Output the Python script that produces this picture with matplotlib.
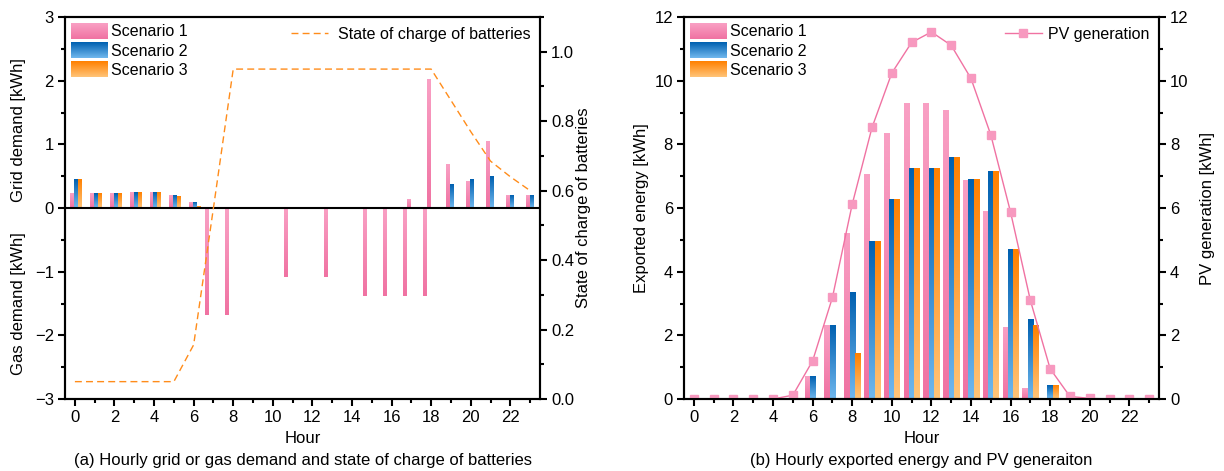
import numpy as np
import matplotlib
matplotlib.use("Agg")
import matplotlib.pyplot as plt
from matplotlib.colors import LinearSegmentedColormap
from matplotlib.legend_handler import HandlerBase
from matplotlib.image import BboxImage
from matplotlib.transforms import Bbox, TransformedBbox
from matplotlib.patches import Patch
from matplotlib.lines import Line2D
from matplotlib.ticker import MultipleLocator

plt.rcParams['font.family'] = ['Liberation Sans', 'DejaVu Sans']
plt.rcParams['font.size'] = 12

hours = np.arange(24)
xticks = list(range(0, 24, 2))

# (a) grid demand (positive) and gas demand (negative), kWh
grid_s1 = [0.22, 0.23, 0.23, 0.25, 0.25, 0.20, 0.08, 0, 0, 0, 0, 0, 0, 0, 0, 0, 0, 0.14, 2.02, 0.68, 0.42, 1.05, 0.19, 0.19]
grid_s2 = [0.45, 0.23, 0.23, 0.25, 0.25, 0.20, 0.08, 0, 0, 0, 0, 0, 0, 0, 0, 0, 0, 0, 0, 0.37, 0.44, 0.49, 0.19, 0.19]
grid_s3 = [0.45, 0.23, 0.23, 0.25, 0.25, 0.18, 0.02, 0, 0, 0, 0, 0, 0, 0, 0, 0, 0, 0, 0, 0, 0, 0, 0, 0]
gas_s1 = [0, 0, 0, 0, 0, 0, 0, -1.68, -1.68, 0, 0, -1.09, 0, -1.09, 0, -1.38, -1.38, -1.38, -1.38, 0, 0, 0, 0, 0]
soc = [0.05, 0.05, 0.05, 0.05, 0.05, 0.05, 0.156, 0.55, 0.95, 0.95, 0.95, 0.95, 0.95, 0.95, 0.95, 0.95,
       0.95, 0.95, 0.95, 0.86, 0.77, 0.685, 0.64, 0.60]

# (b) exported energy and PV generation, kWh
exp_s1 = [0, 0, 0, 0, 0, 0, 0.71, 2.31, 5.21, 7.04, 8.33, 9.28, 9.28, 9.06, 6.86, 5.89, 2.25, 0.32, 0, 0, 0, 0, 0, 0]
exp_s2 = [0, 0, 0, 0, 0, 0, 0.71, 2.31, 3.34, 4.95, 6.26, 7.23, 7.23, 7.58, 6.89, 7.15, 4.69, 2.49, 0.42, 0, 0, 0, 0, 0]
exp_s3 = [0, 0, 0, 0, 0, 0, 0, 0, 1.43, 4.95, 6.26, 7.23, 7.23, 7.58, 6.89, 7.15, 4.69, 2.31, 0.42, 0, 0, 0, 0, 0]
pv_gen = [0, 0, 0, 0, 0, 0.12, 1.2, 3.19, 6.12, 8.53, 10.24, 11.2, 11.53, 11.11, 10.07, 8.3, 5.87, 3.1, 0.95,
          0.08, 0.02, 0, 0, 0]

labels = ['Scenario 1', 'Scenario 2', 'Scenario 3']
# (top colour, bottom colour)
pink = ('#f9a0c4', '#f072a2')
blue = ('#0060b0', '#70b8ee')
orange = ('#ff8000', '#ffc478')
soc_color = '#ff8c1a'
pv_line = '#f072a2'
pv_marker = '#f799bf'


def grad_bars(ax, x, heights, width, colors, zorder=2):
    bars = ax.bar(x, heights, width, color='none', edgecolor='none', zorder=zorder)
    cmap = LinearSegmentedColormap.from_list('g', [colors[1], colors[0]])
    grad = np.linspace(0, 1, 128).reshape(-1, 1)
    for b in bars:
        h = b.get_height()
        if h == 0:
            continue
        x0, y0, w = b.get_x(), b.get_y(), b.get_width()
        lo, hi = min(y0, y0 + h), max(y0, y0 + h)
        ax.imshow(grad, extent=[x0, x0 + w, lo, hi], origin='lower', cmap=cmap,
                  aspect='auto', interpolation='bilinear', zorder=zorder)
    return bars


class GradHandler(HandlerBase):
    def __init__(self, colors):
        super().__init__()
        self.colors = colors

    def create_artists(self, legend, orig_handle, xdescent, ydescent, width, height, fontsize, trans):
        bb = Bbox.from_bounds(-xdescent, -ydescent, width, height)
        tbb = TransformedBbox(bb, trans)
        cmap = LinearSegmentedColormap.from_list('g', [self.colors[1], self.colors[0]])
        img = BboxImage(tbb, cmap=cmap, interpolation='bilinear', origin='lower')
        img.set_data(np.linspace(0, 1, 64).reshape(-1, 1))
        return [img]


def style_axes(ax):
    for s in ax.spines.values():
        s.set_linewidth(1.5)
    ax.tick_params(which='major', direction='out', length=5, width=1.5, labelsize=12, pad=3)
    ax.tick_params(which='minor', direction='out', length=3, width=1.5)


fig = plt.figure(figsize=(12.24, 4.71), dpi=100)
axL = fig.add_axes([65 / 1224, 1 - 399 / 471, 475 / 1224, 382 / 471])
axR = fig.add_axes([684 / 1224, 1 - 399 / 471, 475 / 1224, 382 / 471])

# ---------- (a) ----------
w = 0.2
grad_bars(axL, hours - 0.33, gas_s1, w, pink)
grad_bars(axL, hours - 0.13, grid_s1, w, pink)
grad_bars(axL, hours + 0.07, grid_s2, w, blue)
grad_bars(axL, hours + 0.27, grid_s3, w, orange)
axL.axhline(0, color='black', lw=1.5, zorder=5)
axL.set_xlim(-0.5, 23.5)
axL.set_ylim(-3, 3)
axL.set_xticks(xticks)
axL.xaxis.set_minor_locator(MultipleLocator(1))
axL.yaxis.set_major_locator(MultipleLocator(1))
axL.yaxis.set_minor_locator(MultipleLocator(0.5))
axL.set_xlabel('Hour', labelpad=4)
style_axes(axL)
axL.text(-0.097, 0.705, 'Grid demand [kWh]', transform=axL.transAxes, rotation=90, ha='center', va='center')
axL.text(-0.097, 0.25, 'Gas demand [kWh]', transform=axL.transAxes, rotation=90, ha='center', va='center')

axL2 = axL.twinx()
axL2.plot(hours, soc, color=soc_color, lw=1.0, linestyle=(0, (5, 3)))
axL2.set_ylim(0, 1.1)
axL2.yaxis.set_major_locator(MultipleLocator(0.2))
axL2.yaxis.set_minor_locator(MultipleLocator(0.1))
axL2.yaxis.set_major_formatter(matplotlib.ticker.FormatStrFormatter('%.1f'))
style_axes(axL2)
axL2.set_ylabel('State of charge of batteries', labelpad=1)

handles = [Patch(label=l) for l in labels]
axL.legend(handles, labels, handler_map={handles[0]: GradHandler(pink), handles[1]: GradHandler(blue),
                                         handles[2]: GradHandler(orange)},
           loc='upper left', bbox_to_anchor=(0, 1), frameon=False, handlelength=2.3, handleheight=1.1,
           handletextpad=0.2, labelspacing=0.2, borderaxespad=0.2, borderpad=0.2, fontsize=11.5)
axL2.legend([Line2D([], [], color=soc_color, lw=1.0, linestyle=(0, (5, 3)))], ['State of charge of batteries'],
            loc='upper right', frameon=False, handlelength=2.3, handletextpad=0.6, borderaxespad=0.2, fontsize=11.5)
axL.text(0.5, -0.16, '(a) Hourly grid or gas demand and state of charge of batteries', transform=axL.transAxes,
         ha='center', va='center')

# ---------- (b) ----------
w2 = 0.27
grad_bars(axR, hours - w2, exp_s1, w2, pink)
grad_bars(axR, hours, exp_s2, w2, blue)
grad_bars(axR, hours + w2, exp_s3, w2, orange)
axR.set_xlim(-0.5, 23.5)
axR.set_ylim(0, 12)
axR.set_xticks(xticks)
axR.xaxis.set_minor_locator(MultipleLocator(1))
axR.yaxis.set_major_locator(MultipleLocator(2))
axR.yaxis.set_minor_locator(MultipleLocator(1))
axR.set_xlabel('Hour', labelpad=4)
axR.set_ylabel('Exported energy [kWh]', labelpad=4)
style_axes(axR)

axR2 = axR.twinx()
axR2.plot(hours, pv_gen, color=pv_line, lw=1.0, marker='s', markersize=5.5, markerfacecolor=pv_marker,
          markeredgecolor=pv_marker)
axR2.set_ylim(0, 12)
axR2.yaxis.set_major_locator(MultipleLocator(2))
axR2.yaxis.set_minor_locator(MultipleLocator(1))
axR2.set_ylabel('PV generation [kWh]', labelpad=8)
style_axes(axR2)

handles2 = [Patch(label=l) for l in labels]
axR.legend(handles2, labels, handler_map={handles2[0]: GradHandler(pink), handles2[1]: GradHandler(blue),
                                          handles2[2]: GradHandler(orange)},
           loc='upper left', bbox_to_anchor=(0, 1), frameon=False, handlelength=2.3, handleheight=1.1,
           handletextpad=0.2, labelspacing=0.2, borderaxespad=0.2, borderpad=0.2, fontsize=11.5)
axR2.legend([Line2D([], [], color=pv_line, lw=1.0, marker='s', markersize=5.5, markerfacecolor=pv_marker,
                    markeredgecolor=pv_marker)], ['PV generation'],
            loc='upper right', frameon=False, handlelength=2.3, handletextpad=0.4, borderaxespad=0.2, fontsize=11.5)
axR.text(0.5, -0.16, '(b) Hourly exported energy and PV generaiton', transform=axR.transAxes,
         ha='center', va='center')

fig.savefig('out.png', dpi=100)
